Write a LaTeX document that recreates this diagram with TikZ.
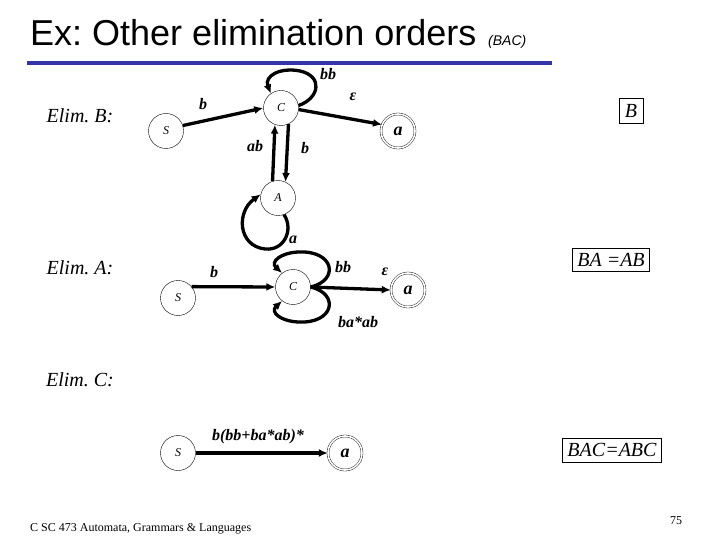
\documentclass[tikz,border=0pt]{standalone}
\usepackage{fontspec}
\setmainfont{Liberation Serif}
\setsansfont{Liberation Sans}
\usetikzlibrary{arrows.meta}
\definecolor{barblue}{HTML}{3333AA}
\frenchspacing
\tikzset{
  st/.style={circle,draw,thin,minimum size=35pt,inner sep=0pt,font=\fontsize{12}{12}\selectfont\itshape},
  acc/.style={circle,draw,thin,double,double distance=1.6pt,minimum size=34pt,inner sep=0pt,font=\fontsize{18}{18}\selectfont\bfseries\itshape},
  tr/.style={line width=3.3pt,-{Latex[length=9pt,width=8pt]}},
  lab/.style={font=\fontsize{16}{16}\selectfont\bfseries\itshape},
  elim/.style={font=\fontsize{20}{20}\selectfont\itshape},
  res/.style={draw,thin,inner sep=5pt,font=\fontsize{20}{20}\selectfont\itshape}
}
\begin{document}
\begin{tikzpicture}[x=1pt,y=-1pt]
\useasboundingbox (0,0) rectangle (720,540);
% title
\node[anchor=base west,inner sep=0pt,font=\sffamily\fontsize{36}{36}\selectfont] (title) at (30,46) {\frenchspacing Ex: Other elimination orders};
\node[anchor=base west,inner sep=0pt,font=\sffamily\itshape\fontsize{14}{14}\selectfont] (sub) at (488,46) {(BAC)};
\fill[barblue] (27,61) rectangle (552,65);

% ---- Elim B
\node[elim] (eB) at (80,116) {\frenchspacing Elim. B:};
\node[st] (S1) at (166,131) {S};
\node[st] (C1) at (281,108) {C};
\node[acc] (a1) at (398,131) {a};
\node[st] (A1) at (278,198) {A};
\node[res,inner sep=6pt] (boxB) at (631,111) {B};
\draw[tr] (S1.18) -- (C1.180);
\draw[tr] (C1.-5) -- (a1.158);
\draw[tr] (A1.108) -- (C1.250);
\draw[tr] (C1.-65) -- (A1.65);
\draw[tr] (C1.8) .. controls (320,98) and (323,76) .. (300,71) .. controls (280,67) and (264,76) .. (C1.125);
\draw[tr] (A1.-70) .. controls (294,230) and (284,251) .. (265,249) .. controls (238,246) and (236,212) .. (A1.168);
\node[lab] (lbb1) at (328,74) {bb};
\node[lab] (le1) at (353,97) {ε};
\node[lab] (lb1) at (203,104) {b};
\node[lab] (lab1) at (255,146) {ab};
\node[lab] (lbC1) at (305,148) {b};
\node[lab] (la1) at (293,240) {a};

% ---- Elim A
\node[elim] (eA) at (80,268) {\frenchspacing Elim. A:};
\node[st] (S2) at (178,298) {S};
\node[st] (C2) at (293,287) {C};
\node[acc] (a2) at (408,290) {a};
\node[res] (boxA) at (611,260) {BA =AB};
\draw[tr] (S2.40) -- (C2.180);
\draw[tr] (C2.0) -- (a2.180);
\draw[tr] (C2.0) .. controls (340,280) and (334,250) .. (298,252) .. controls (280,253) and (270,262) .. (C2.128);
\draw[tr] (C2.0) .. controls (340,294) and (334,324) .. (298,322) .. controls (280,321) and (270,312) .. (C2.232);
\node[lab] (lb2) at (214,272) {b};
\node[lab] (le2) at (385,272) {ε};
\node[lab] (lbb2) at (343,267) {bb};
\node[lab] (lbaab) at (358,322) {ba*ab};

% ---- Elim C
\node[elim] (eC) at (80,380) {\frenchspacing Elim. C:};
\node[st] (S3) at (178,453) {S};
\node[acc] (a3) at (345,453) {a};
\node[res] (boxC) at (612,450) {BAC=ABC};
\draw[tr] (S3.0) -- (a3.180);
\node[lab] (lC) at (258,437) {b(bb+ba*ab)*};

% footer
\node[anchor=base west,inner sep=0pt,font=\fontsize{12}{12}\selectfont] (foot) at (30,531) {C SC 473 Automata, Grammars \& Languages};
\node[anchor=base,inner sep=0pt,font=\fontsize{12}{12}\selectfont] (pg) at (676,524) {75};
\end{tikzpicture}
\end{document}
